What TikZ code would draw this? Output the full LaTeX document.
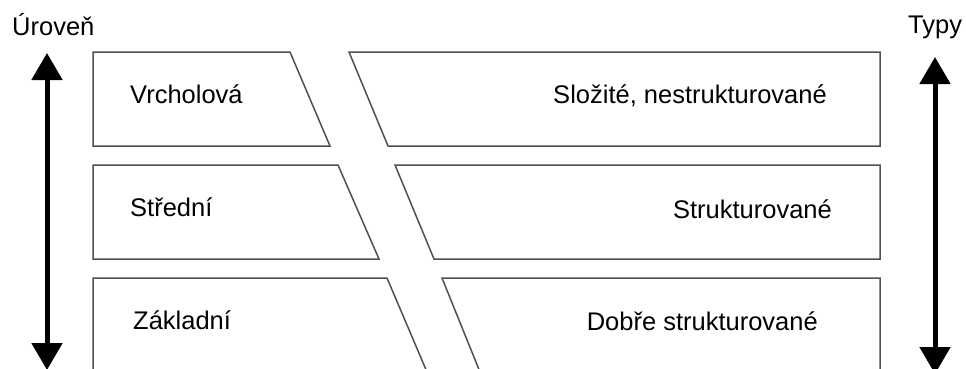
\documentclass[tikz,border=0pt]{standalone}
\usepackage{fontspec}
\setmainfont{Liberation Sans}
\usetikzlibrary{arrows.meta}

\definecolor{boxline}{RGB}{80,80,80}

\begin{document}
\begin{tikzpicture}[x=1pt, y=-1pt,
    level/.style={font=\fontsize{25.5}{30}\selectfont, inner sep=0pt},
    band/.style={draw=boxline, line width=1.5pt},
    axis/.style={line width=5pt,
        {Triangle[length=27pt,width=30pt]}-{Triangle[length=27pt,width=30pt]}}]
    % Frame, bottom row runs off the page
    \useasboundingbox (0,0) rectangle (966,368);
    \clip (0,0) rectangle (966,368);

    % Levels (left column)
    \draw[band] (93,52) -- (290,52) -- (330,146) -- (93,146) -- cycle;
    \draw[band] (93,165) -- (338,165) -- (379,259) -- (93,259) -- cycle;
    \draw[band] (93,278) -- (387,278) -- (427,372) -- (93,372) -- cycle;

    % Types (right column)
    \draw[band] (349,52) -- (880,52) -- (880,146) -- (388,146) -- cycle;
    \draw[band] (395,165) -- (880,165) -- (880,259) -- (434,259) -- cycle;
    \draw[band] (442,278) -- (880,278) -- (880,372) -- (480,372) -- cycle;

    % Labels
    \node[level, anchor=base west] (vrchol) at (130,103) {Vrcholová};
    \node[level, anchor=base west] (stred) at (130,216) {Střední};
    \node[level, anchor=base west] (zaklad) at (133,329) {Základní};
    \node[level, anchor=base east] (slozite) at (827,103) {Složité, nestrukturované};
    \node[level, anchor=base east] (strukt) at (832,218) {Strukturované};
    \node[level, anchor=base east] (dobre) at (818,330) {Dobře strukturované};

    % Axis titles
    \node[level, anchor=base west] (uroven) at (12,35) {Úroveň};
    \node[level, anchor=base west] (typy) at (908,33) {Typy};

    % Double arrows
    \coordinate (levtop) at (47,53);
    \coordinate (levbot) at (47,370);
    \coordinate (typtop) at (935,57);
    \coordinate (typbot) at (935,374);
    \draw[axis] (levtop) -- (levbot);
    \draw[axis] (typtop) -- (typbot);
\end{tikzpicture}
\end{document}
